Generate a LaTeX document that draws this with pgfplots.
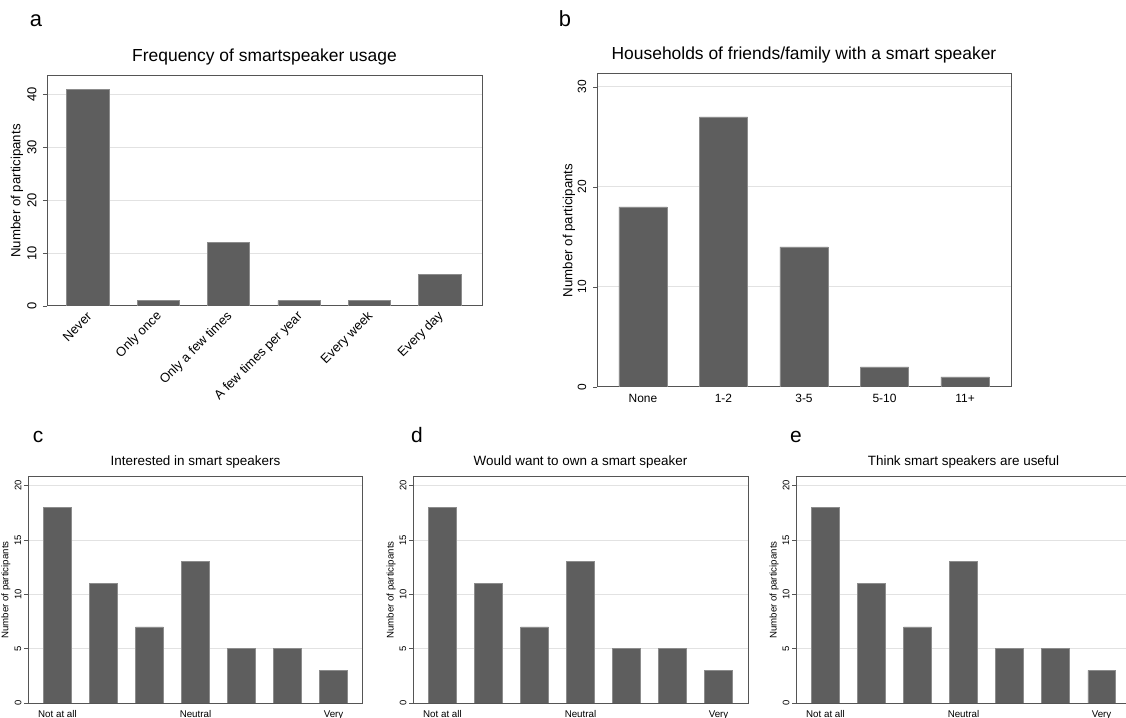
\documentclass[border=0pt]{standalone}
\usepackage{fontspec}
\setmainfont{Liberation Sans}
\usepackage{pgfplots}
\pgfplotsset{compat=1.18}
\definecolor{barc}{RGB}{94,94,94}
\definecolor{framec}{RGB}{85,85,85}
\definecolor{gridc}{RGB}{226,226,226}
\newcommand{\fs}[1]{\fontsize{#1}{#1}\selectfont}
\pgfplotsset{
  base/.style={
    scale only axis, anchor=south west,
    axis line style={framec, line width=1bp},
    ymin=0, ymajorgrids, grid style={gridc, line width=1bp},
    ytick pos=left, tick align=outside, major tick length=4bp,
    ytick style={framec, line width=0.8bp},
    xtick style={draw=none},
    /pgf/number format/assume math mode=true,
    ylabel={Number of participants},
    title style={at={(axis description cs:0.5,1)}, anchor=base},
  },
  bars/.style={ybar, bar width=0.6, fill=barc, draw=black!45, line width=0.5bp},
  small/.style={
    base, width=335bp, height=226bp, xmin=0.36, xmax=7.64, ymax=20.8,
    ytick={0,5,10,15,20},
    xtick={1,4,7}, xticklabels={Not at all, Neutral, Very},
    xticklabel style={font=\fs{9.8}},
    yticklabel style={font=\fs{9.5}, anchor=center, xshift=-6bp, rotate=90},
    ylabel style={font=\fs{9.7}, at={([xshift=-22bp]axis description cs:0,0.5)}, anchor=center},
    title style={font=\fs{13.5}, yshift=6bp},
  },
}
\begin{document}
\begin{tikzpicture}
\useasboundingbox (0,0) rectangle (1126bp,718bp);
% panel labels
\node[anchor=base, font=\fs{22}] at (36bp,691bp) {a};
\node[anchor=base, font=\fs{22}] at (565bp,691bp) {b};
\node[anchor=base, font=\fs{21}] at (38bp,275bp) {c};
\node[anchor=base, font=\fs{21}] at (417bp,275bp) {d};
\node[anchor=base, font=\fs{21}] at (796bp,275bp) {e};

% panel a
\begin{axis}[base, at={(47bp,412bp)}, width=435bp, height=230bp,
  xmin=-0.58, xmax=5.6, ymax=43.5, ytick={0,10,20,30,40},
  xtick={0,1,2,3,4,5},
  xticklabels={Never, Only once, Only a few times, A few times per year, Every week, Every day},
  xticklabel style={font=\fs{13}, anchor=east, xshift=4bp, yshift=-2bp, rotate=45},
  yticklabel style={font=\fs{13}, anchor=center, xshift=-11bp, rotate=90},
  ylabel style={font=\fs{13.3}, at={([xshift=-30bp]axis description cs:0,0.5)}, anchor=center},
  title={Frequency of smartspeaker usage},
  title style={font=\fs{17.5}, yshift=9bp}]
\addplot[bars] coordinates {(0,41) (1,1) (2,12) (3,1) (4,1) (5,6)};
\end{axis}

% panel b
\begin{axis}[base, at={(597bp,331bp)}, width=414bp, height=313bp,
  xmin=-0.57, xmax=4.57, ymax=31.3, ytick={0,10,20,30},
  xtick={0,1,2,3,4},
  xticklabels={None, 1-2, 3-5, 5-10, 11+},
  xticklabel style={font=\fs{12}},
  yticklabel style={font=\fs{12}, anchor=center, xshift=-11bp, rotate=90},
  ylabel style={font=\fs{13.3}, at={([xshift=-28bp]axis description cs:0,0.5)}, anchor=center},
  title={Households of friends/family with a smart speaker},
  title style={font=\fs{17.5}, yshift=9bp}]
\addplot[bars] coordinates {(0,18) (1,27) (2,14) (3,2) (4,1)};
\end{axis}

% panel c
\begin{axis}[small, at={(28bp,15bp)}, title={Interested in smart speakers}]
\addplot[bars] coordinates {(1,18) (2,11) (3,7) (4,13) (5,5) (6,5) (7,3)};
\end{axis}

% panel d
\begin{axis}[small, at={(413bp,15bp)}, title={Would want to own a smart speaker}]
\addplot[bars] coordinates {(1,18) (2,11) (3,7) (4,13) (5,5) (6,5) (7,3)};
\end{axis}

% panel e
\begin{axis}[small, at={(796bp,15bp)}, title={Think smart speakers are useful}]
\addplot[bars] coordinates {(1,18) (2,11) (3,7) (4,13) (5,5) (6,5) (7,3)};
\end{axis}
\end{tikzpicture}
\end{document}
